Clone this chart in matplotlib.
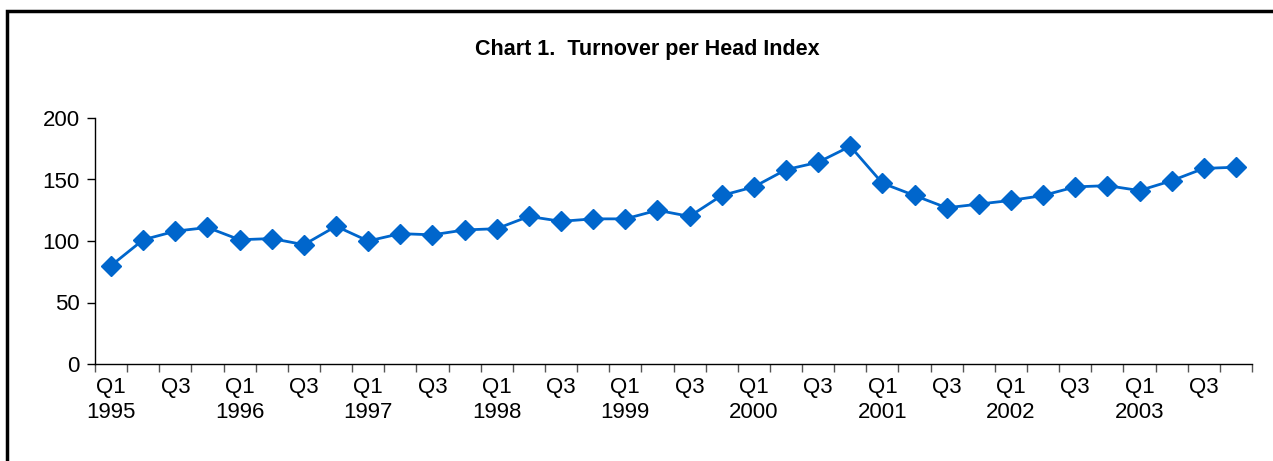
import matplotlib.pyplot as plt
from matplotlib.patches import Rectangle

plt.rcParams["font.family"] = ["Liberation Sans", "DejaVu Sans"]

# quarterly index, 1995 Q1 .. 2003 Q4
years = list(range(1995, 2004))
quarters = ["Q1", "Q2", "Q3", "Q4"]
index_values = [
    80, 101, 108, 111,
    101, 102, 97, 112,
    100, 106, 105, 109,
    110, 120, 116, 118,
    118, 125, 120, 137,
    144, 158, 164, 177,
    147, 137, 127, 130,
    133, 137, 144, 145,
    141, 149, 159, 160,
]
y_ticks = [0, 50, 100, 150, 200]

labels = []
for y in years:
    for q in quarters:
        if q == "Q1":
            labels.append(f"Q1\n{y}")
        elif q == "Q3":
            labels.append("Q3\n")
        else:
            labels.append("")

fig = plt.figure(figsize=(12.73, 4.61), dpi=100)
ax = fig.add_axes([95 / 1273, 1 - 364 / 461, (1252 - 95) / 1273, (364 - 118) / 461])

x = list(range(len(index_values)))
ax.plot(x, index_values, color="#0066CC", lw=2, marker="D", ms=10,
        markerfacecolor="#0066CC", markeredgecolor="#0066CC", clip_on=False)

ax.set_xlim(-0.5, len(index_values) - 0.5)
ax.set_ylim(0, 200)
ax.set_yticks(y_ticks)
ax.tick_params(axis="y", labelsize=16, length=6, width=1, pad=5)

# ticks on category boundaries, labels at category centres
ax.set_xticks([i - 0.5 for i in range(len(index_values) + 1)])
ax.set_xticklabels([])
ax.set_xticks(x, minor=True)
ax.set_xticklabels(labels, minor=True, fontsize=16, linespacing=1.3)
ax.tick_params(axis="x", which="major", length=6, width=1, color="#555555")
ax.tick_params(axis="x", which="minor", length=0, pad=9)

for s in ["top", "right"]:
    ax.spines[s].set_visible(False)
ax.spines["left"].set_linewidth(1)
ax.spines["bottom"].set_linewidth(1)

fig.text(647 / 1273, 1 - 49 / 461, "Chart 1.  Turnover per Head Index",
         ha="center", va="center", fontsize=15.5, fontweight="bold")

fig.patches.append(Rectangle((7 / 1273, -0.1), 1.2, 1 - 11 / 461 + 0.1,
                             transform=fig.transFigure, fill=False,
                             edgecolor="black", lw=2.5))

fig.savefig("out.png", dpi=100)
